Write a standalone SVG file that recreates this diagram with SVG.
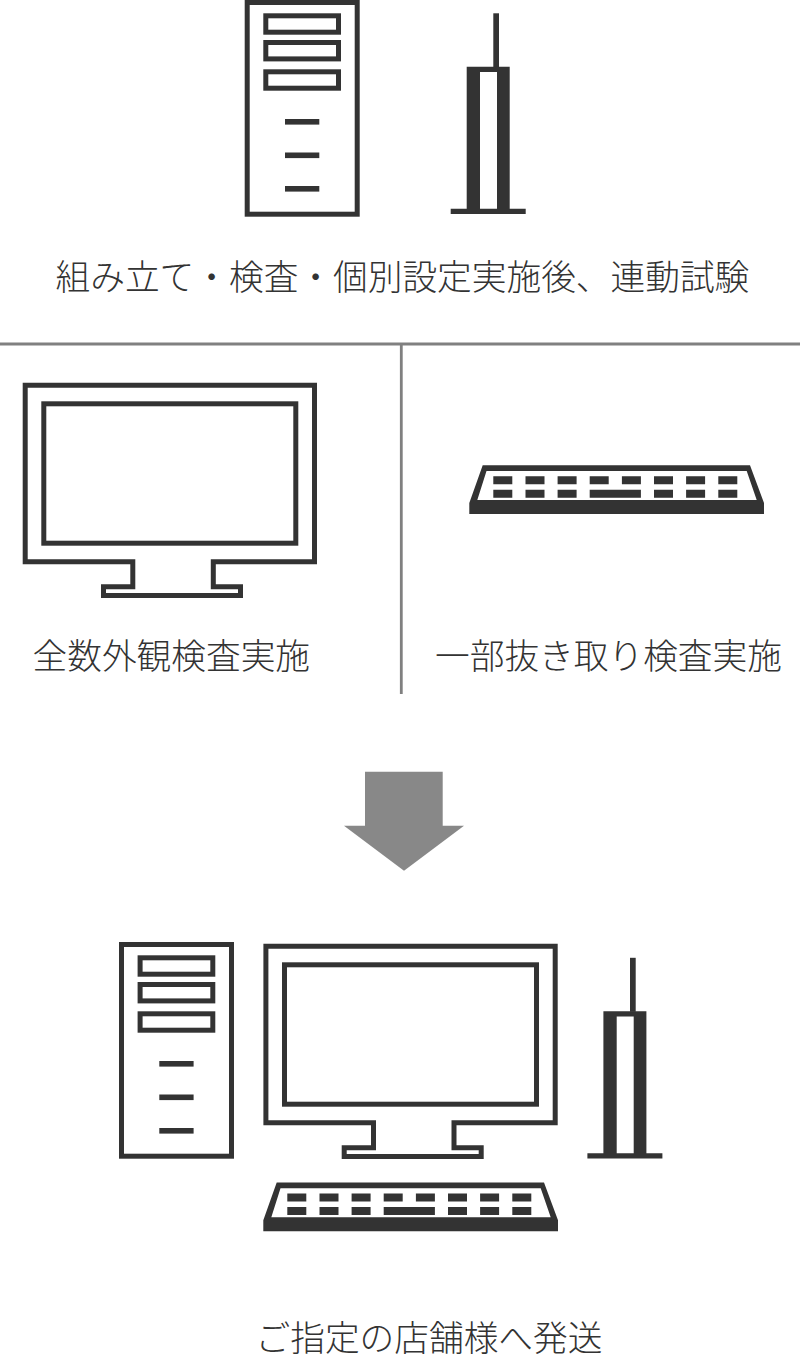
<svg xmlns="http://www.w3.org/2000/svg" width="800" height="1354" viewBox="0 0 800 1354">
<style>
.o{fill:none;stroke:#333;stroke-width:5;stroke-linejoin:miter}
.f{fill:#333}
.t{font-family:"Noto Sans CJK JP","Noto Sans CJK SC",sans-serif;font-size:34.7px;font-weight:300;fill:#333}
.g{stroke:#808080;stroke-width:2.8;fill:none}
</style>
<defs>
<g id="tower">
<rect class="o" x="247.2" y="2.5" width="110" height="211.7"/>
<rect class="o" x="265.8" y="15.8" width="72.7" height="16.4"/>
<rect class="o" x="265.8" y="42.5" width="72.7" height="16.4"/>
<rect class="o" x="265.8" y="71.8" width="72.7" height="16.4"/>
<rect class="f" x="285" y="119" width="34.3" height="5.6"/>
<rect class="f" x="285" y="152.5" width="34.3" height="5.6"/>
<rect class="f" x="285" y="186" width="34.3" height="5.6"/>
</g>
<g id="router">
<rect class="f" x="493.3" y="13.3" width="5.7" height="54"/>
<path class="f" fill-rule="evenodd" d="M466.7 66.7H509.7V208.7H525.7V214H450.7V208.7H466.7ZM480 72V208.7H497V72Z"/>
</g>
<g id="monitor">
<path class="o" d="M132.8 561.8H25.2V385.2H314.5V561.8H213.3V586.8H240.5V595.6H103.5V586.8H132.8Z"/>
<rect class="o" x="43.8" y="403.8" width="252" height="139.4"/>
</g>
<g id="kb">
<path class="f" fill-rule="evenodd" d="M482.7 465.3H750L764 503V514H469.3V503ZM486.5 471L477.3 500H756.7L746.7 471Z"/>
<path class="f" d="M493.3 476.3h19v8h-19zM525.5 476.3h19v8h-19zM557.6 476.3h19v8h-19zM589.7 476.3h19v8h-19zM621.9 476.3h19v8h-19zM654 476.3h19v8h-19zM686.1 476.3h19v8h-19zM718.3 476.3h19v8h-19zM493.3 489.7h19v8h-19zM525.5 489.7h19v8h-19zM557.6 489.7h19v8h-19zM589.7 489.7h51.2v8h-51.2zM654 489.7h19v8h-19zM686.1 489.7h19v8h-19zM718.3 489.7h19v8h-19z"/>
</g>
</defs>
<rect width="800" height="1354" fill="#fff"/>
<g id="connectors">
<path class="g" d="M0 344H800M401.3 345V694"/>
<path id="arrow" fill="#888" d="M365 771.7H442.7V825.7H464L404 870.7L344 825.7H365Z"/>
</g>
<g id="node-assembly">
<use href="#tower"/>
<use href="#router"/>
<text class="t" x="55.5" y="290">組み立て・検査・個別設定実施後、連動試験</text>
</g>
<g id="node-monitor">
<use href="#monitor"/>
<text class="t" x="32.5" y="669">全数外観検査実施</text>
</g>
<g id="node-keyboard">
<use href="#kb"/>
<text class="t" x="435" y="669">一部抜き取り検査実施</text>
</g>
<g id="node-shipping">
<use href="#tower" x="-125.7" y="942"/>
<use href="#monitor" x="240.7" y="561"/>
<use href="#router" x="136.7" y="944.5"/>
<use href="#kb" x="-206" y="717.2"/>
<text class="t" x="255.5" y="1350.5">ご指定の店舗様へ発送</text>
</g>
</svg>
